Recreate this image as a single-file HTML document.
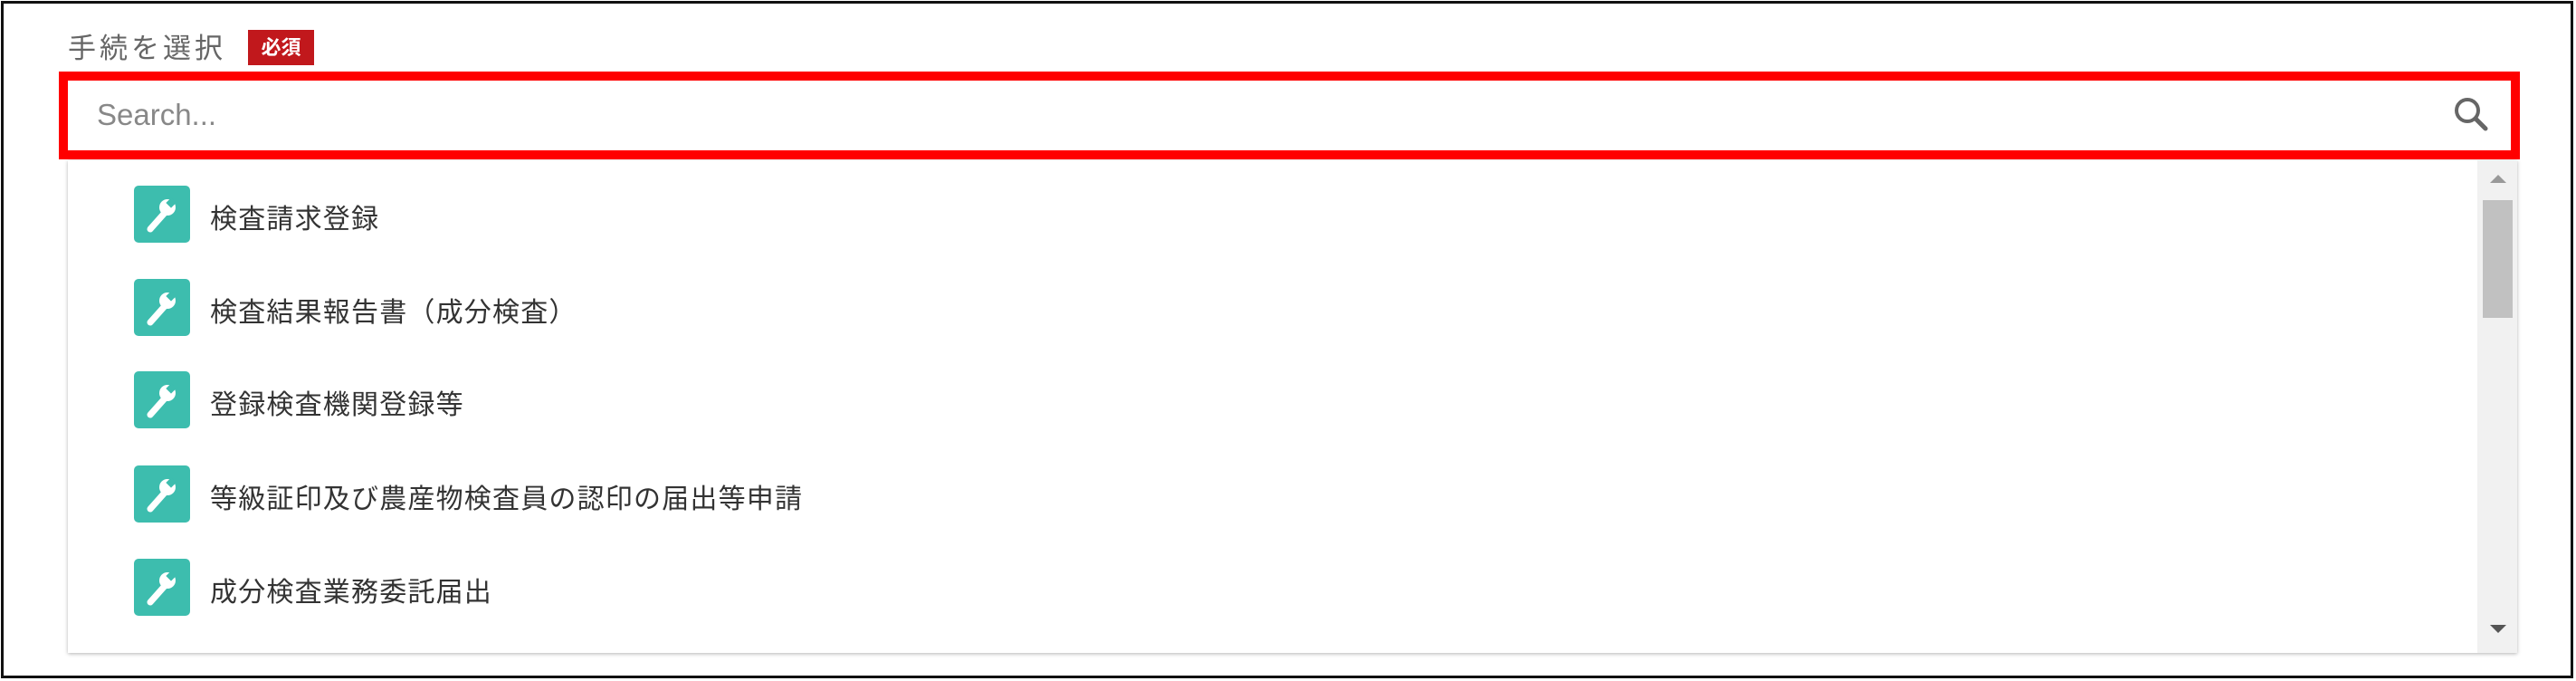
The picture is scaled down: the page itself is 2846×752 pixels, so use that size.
<!DOCTYPE html>
<html><head><meta charset="utf-8"><style>
body{margin:0;width:2846px;height:752px;background:#fff;position:relative;overflow:hidden;font-family:"Liberation Sans","Noto Sans CJK JP",sans-serif}
.frame{position:absolute;left:1px;top:1px;width:2836px;height:742px;border:3px solid #111}
.label{position:absolute;left:75px;top:28px;font-size:31px;color:#666;letter-spacing:4px}
.badge{position:absolute;left:274px;top:33px;width:73px;height:39px;background:#c1181c;color:#fff;font-size:22px;font-weight:bold;text-align:center;line-height:39px}
.red{position:absolute;left:65px;top:79px;width:2699px;height:77px;border:10px solid #ff0000;background:#fff}
.search{position:absolute;left:107px;top:108px;font-size:33px;color:#888}
.panel{position:absolute;left:75px;top:177px;width:2706px;height:544px;background:#fff;box-shadow:0 1px 4px rgba(0,0,0,.3)}
.sb{position:absolute;left:2737px;top:177px;width:44px;height:544px;background:#f1f1f1}
.thumb{position:absolute;left:2743px;top:221px;width:33px;height:130px;background:#c1c1c1}
.item{position:absolute;left:148px;height:63px;width:1500px}
.icon{position:absolute;left:0;top:0;width:62px;height:63px;background:#3dbdae;border-radius:5px}
.txt{position:absolute;left:84px;top:12px;font-size:30px;color:#333;white-space:nowrap;letter-spacing:1.2px}
</style></head><body>
<div class="frame"></div>
<div class="label">手続を選択</div>
<div class="badge">必須</div>
<div class="panel"></div>
<div class="sb"></div>
<div class="thumb"></div>
<svg style="position:absolute;left:2748px;top:190px" width="24" height="14"><polygon points="3,12 12,3 21,12" fill="#999"/></svg>
<svg style="position:absolute;left:2748px;top:688px" width="24" height="14"><polygon points="3,2 12,11 21,2" fill="#555"/></svg>
<div class="red"></div>
<div class="search">Search...</div>
<svg style="position:absolute;left:2708px;top:104px" width="46" height="46"><circle cx="18" cy="18" r="12" fill="none" stroke="#666" stroke-width="4"/><line x1="27" y1="27" x2="38" y2="38" stroke="#666" stroke-width="5" stroke-linecap="round"/></svg>

<div class="item" style="top:205px"><div class="icon"><svg width="62" height="63"><path d="M18 48 L34 30" stroke="#fff" stroke-width="7" stroke-linecap="round"/><circle cx="37" cy="24" r="9" fill="#fff"/><rect x="37" y="15" width="8" height="8" fill="#3dbdae" transform="rotate(45 41 19)"/></svg></div><div class="txt">検査請求登録</div></div>
<div class="item" style="top:308px"><div class="icon"><svg width="62" height="63"><path d="M18 48 L34 30" stroke="#fff" stroke-width="7" stroke-linecap="round"/><circle cx="37" cy="24" r="9" fill="#fff"/><rect x="37" y="15" width="8" height="8" fill="#3dbdae" transform="rotate(45 41 19)"/></svg></div><div class="txt">検査結果報告書（成分検査）</div></div>
<div class="item" style="top:410px"><div class="icon"><svg width="62" height="63"><path d="M18 48 L34 30" stroke="#fff" stroke-width="7" stroke-linecap="round"/><circle cx="37" cy="24" r="9" fill="#fff"/><rect x="37" y="15" width="8" height="8" fill="#3dbdae" transform="rotate(45 41 19)"/></svg></div><div class="txt">登録検査機関登録等</div></div>
<div class="item" style="top:514px"><div class="icon"><svg width="62" height="63"><path d="M18 48 L34 30" stroke="#fff" stroke-width="7" stroke-linecap="round"/><circle cx="37" cy="24" r="9" fill="#fff"/><rect x="37" y="15" width="8" height="8" fill="#3dbdae" transform="rotate(45 41 19)"/></svg></div><div class="txt">等級証印及び農産物検査員の認印の届出等申請</div></div>
<div class="item" style="top:617px"><div class="icon"><svg width="62" height="63"><path d="M18 48 L34 30" stroke="#fff" stroke-width="7" stroke-linecap="round"/><circle cx="37" cy="24" r="9" fill="#fff"/><rect x="37" y="15" width="8" height="8" fill="#3dbdae" transform="rotate(45 41 19)"/></svg></div><div class="txt">成分検査業務委託届出</div></div>
</body></html>
